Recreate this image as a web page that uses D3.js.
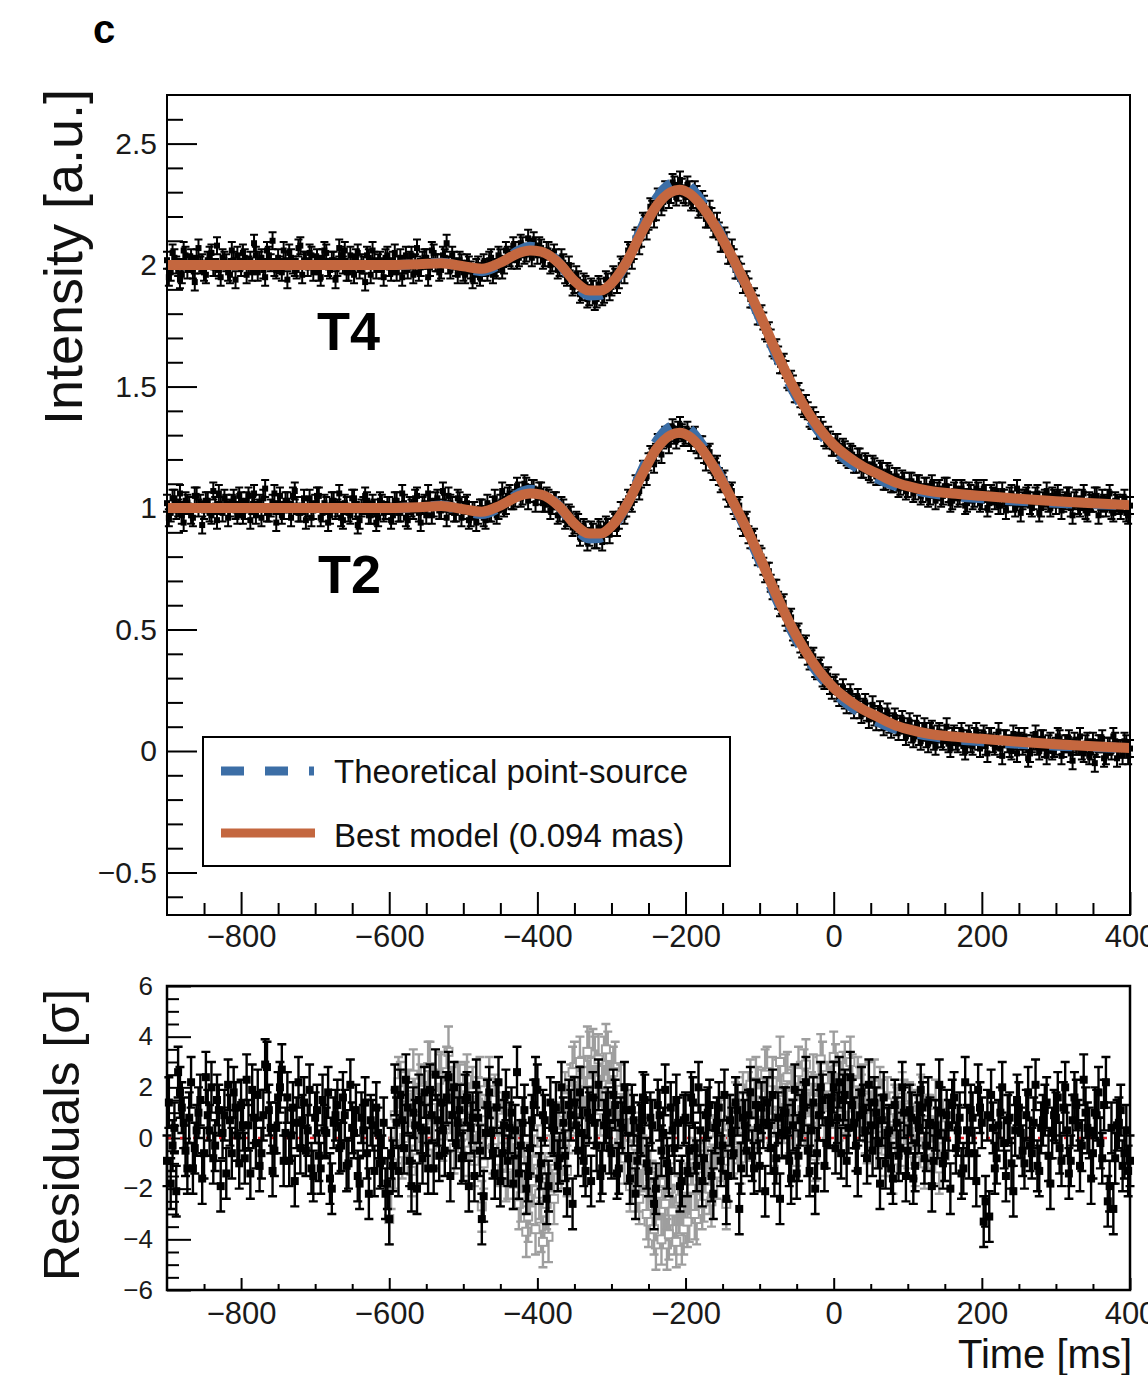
<!DOCTYPE html>
<html>
<head>
<meta charset="utf-8">
<script src="https://cdn.jsdelivr.net/npm/d3@7"></script>
<style>
  html, body { margin: 0; padding: 0; background: #fff; }
  svg { display: block; font-family: "Liberation Sans", Arial, sans-serif; }
</style>
</head>
<body>
<svg id="chart" width="1148" height="1375"></svg>
<script>
// ---- data ----
// light curves are sampled every 2.5 ms; stored as two interleaved 5 ms grids
const gridA = { start: -900, end: 400, step: 5 };
const gridB = { start: -897.5, end: 397.5, step: 5 };

// model curve knots (ms)
const modelTime = [-900,-600,-560,-530,-500,-475,-450,-425,-410,-395,-370,-350,-330,-315,-300,-280,-260,-240,-220,-208,-195,-180,-160,-140,-120,-100,-80,-60,-40,-20,0,20,40,60,80,100,130,160,200,250,300,350,400];
const bestT4 = [2.000,2.000,2.003,2.008,1.995,1.985,2.010,2.050,2.060,2.055,2.005,1.935,1.895,1.895,1.925,2.010,2.130,2.240,2.300,2.310,2.295,2.250,2.160,2.050,1.930,1.800,1.660,1.530,1.420,1.330,1.260,1.210,1.170,1.140,1.110,1.090,1.070,1.060,1.050,1.038,1.028,1.020,1.012];
const bestT2 = [1.000,1.000,1.003,1.008,0.995,0.985,1.010,1.050,1.060,1.055,1.005,0.935,0.895,0.895,0.925,1.010,1.130,1.240,1.300,1.310,1.295,1.250,1.160,1.050,0.930,0.800,0.660,0.530,0.420,0.330,0.260,0.210,0.170,0.140,0.110,0.090,0.070,0.060,0.050,0.038,0.028,0.020,0.012];
const theoT4 = [2.000,2.000,2.004,2.010,1.990,1.975,2.005,2.060,2.075,2.068,2.005,1.925,1.875,1.878,1.915,2.010,2.145,2.270,2.335,2.345,2.325,2.270,2.170,2.050,1.920,1.785,1.645,1.515,1.405,1.315,1.245,1.190,1.150,1.120,1.095,1.080,1.062,1.050,1.040,1.030,1.022,1.016,1.012];
const theoT2 = [1.000,1.000,1.004,1.010,0.990,0.975,1.005,1.060,1.075,1.068,1.005,0.925,0.875,0.878,0.915,1.010,1.145,1.270,1.335,1.345,1.325,1.270,1.170,1.050,0.920,0.785,0.645,0.515,0.405,0.315,0.245,0.190,0.150,0.120,0.095,0.080,0.062,0.050,0.040,0.030,0.022,0.016,0.012];

// measured intensities on grid A (-900 .. 400)
const dataT4a = [
  2.02,1.97,2.03,1.99,1.96,2.04,2.01,1.98,2.03,2.00,1.97,2.02,2.05,1.99,1.98,2.03,2.01,1.96,2.02,2.04,
  1.99,2.03,2.00,1.97,2.04,2.02,1.98,2.06,2.01,1.99,2.03,1.97,2.02,2.05,2.00,1.98,2.08,2.02,1.99,2.04,
  2.01,1.97,2.03,2.05,1.98,2.02,1.99,2.04,2.06,1.97,2.01,2.03,1.98,2.00,2.04,1.96,2.02,2.01,1.98,2.03,
  1.99,2.02,1.97,2.03,2.00,1.98,2.04,2.01,1.97,2.02,2.03,1.99,2.05,2.01,1.98,2.03,2.00,2.04,1.99,2.02,
  1.97,2.01,1.98,1.96,2.00,1.97,1.99,2.02,1.96,1.98,2.03,2.00,2.04,2.02,2.06,2.03,2.08,2.05,2.07,2.10,
  2.04,2.07,2.03,2.06,2.01,2.03,1.99,2.01,1.95,1.97,1.92,1.94,1.89,1.92,1.87,1.90,1.86,1.91,1.88,1.93,
  1.91,1.95,1.94,1.99,2.00,2.05,2.06,2.12,2.11,2.17,2.18,2.23,2.22,2.27,2.26,2.30,2.29,2.33,2.30,2.32,
  2.28,2.31,2.27,2.29,2.24,2.25,2.19,2.20,2.15,2.14,2.09,2.10,2.04,2.03,1.98,1.97,1.92,1.91,1.86,1.84,
  1.79,1.77,1.72,1.70,1.65,1.63,1.59,1.57,1.52,1.51,1.47,1.45,1.41,1.40,1.36,1.36,1.32,1.32,1.28,1.28,
  1.25,1.27,1.22,1.24,1.20,1.22,1.18,1.21,1.16,1.18,1.14,1.17,1.13,1.15,1.11,1.14,1.10,1.13,1.09,1.11,
  1.08,1.11,1.07,1.10,1.06,1.09,1.05,1.08,1.07,1.04,1.09,1.06,1.03,1.08,1.05,1.07,1.02,1.06,1.04,1.07,
  1.03,1.06,1.02,1.05,1.07,1.01,1.04,1.02,1.06,1.00,1.04,1.03,1.05,1.01,1.03,1.06,1.00,1.04,1.02,1.05,
  1.01,1.04,1.02,1.05,1.00,1.03,1.01,1.04,0.99,1.03,1.02,1.05,1.00,1.02,1.04,0.99,1.03,1.01,1.02,0.98,1.01
];
// measured intensities on grid B (-897.5 .. 397.5)
const dataT4b = [
  1.95,2.05,2.00,1.94,2.06,1.98,2.03,1.93,2.07,2.01,1.96,2.04,1.99,2.08,1.95,2.02,1.97,2.06,1.94,2.01,
  2.05,1.96,2.02,2.09,1.97,2.03,1.95,2.04,2.10,1.98,2.00,2.06,1.94,2.03,1.99,2.07,1.96,2.02,2.05,1.97,
  2.03,1.95,2.06,1.99,2.02,1.94,2.07,2.00,1.97,2.04,1.96,2.05,2.01,1.93,2.03,2.06,1.98,2.02,1.95,2.04,
  1.97,2.05,2.00,1.95,2.04,2.02,1.96,2.07,1.99,2.03,1.95,2.06,2.01,1.97,2.04,2.09,1.98,2.02,1.96,2.01,
  1.96,2.00,1.94,1.99,1.95,2.01,1.97,2.03,1.99,2.04,1.98,2.06,2.03,2.08,2.02,2.09,2.04,2.11,2.03,2.08,
  2.08,2.02,2.06,2.00,2.05,1.98,2.03,1.96,2.00,1.91,1.96,1.88,1.93,1.86,1.91,1.85,1.92,1.87,1.94,1.89,
  1.96,1.92,2.00,1.96,2.06,2.02,2.11,2.08,2.18,2.14,2.24,2.19,2.28,2.24,2.31,2.27,2.34,2.28,2.35,2.29,
  2.33,2.26,2.31,2.23,2.27,2.19,2.23,2.15,2.18,2.09,2.12,2.04,2.07,1.98,2.00,1.92,1.94,1.86,1.87,1.79,
  1.80,1.73,1.73,1.66,1.66,1.59,1.60,1.53,1.53,1.47,1.48,1.42,1.43,1.37,1.38,1.32,1.34,1.29,1.30,1.25,
  1.27,1.23,1.25,1.21,1.23,1.18,1.21,1.16,1.19,1.15,1.18,1.13,1.16,1.11,1.15,1.10,1.13,1.08,1.12,1.07,
  1.11,1.06,1.10,1.05,1.09,1.04,1.10,1.03,1.08,1.05,1.09,1.02,1.07,1.04,1.08,1.01,1.07,1.03,1.08,1.02,
  1.08,1.00,1.06,1.03,1.01,1.07,0.99,1.05,1.02,1.08,0.98,1.04,1.06,1.00,1.05,0.98,1.03,1.07,1.00,1.04,
  1.06,0.99,1.03,1.05,0.97,1.04,1.00,1.06,0.98,1.02,1.05,0.97,1.04,1.00,1.06,0.98,1.02,0.99,1.04,0.97
];
const dataT2a = [
  1.02,0.98,1.04,1.00,0.97,1.03,1.01,0.96,1.05,1.02,0.99,1.03,0.97,1.01,1.06,0.98,1.02,1.00,1.04,0.97,
  1.03,0.99,1.05,1.01,0.97,1.02,1.04,0.98,1.00,1.06,1.02,0.97,1.03,0.99,1.05,1.01,0.98,1.04,1.00,0.96,
  1.02,1.05,0.98,1.01,0.97,1.03,1.00,0.96,1.02,0.98,1.04,0.99,0.95,1.01,1.03,0.97,1.00,0.96,1.02,0.99,
  1.01,0.97,1.03,0.98,1.02,0.95,1.00,1.04,0.98,1.01,0.97,1.03,1.00,1.04,0.99,1.02,1.05,1.01,0.98,1.03,
  0.99,1.02,0.96,0.99,0.97,1.00,0.95,0.98,1.01,0.97,1.02,1.00,1.05,1.03,1.04,1.07,1.05,1.09,1.06,1.08,
  1.05,1.07,1.02,1.04,1.01,1.03,0.98,1.00,0.96,0.97,0.93,0.94,0.90,0.91,0.88,0.90,0.87,0.91,0.89,0.92,
  0.92,0.94,0.95,0.99,1.00,1.03,1.06,1.09,1.12,1.15,1.19,1.21,1.23,1.26,1.28,1.29,1.31,1.30,1.32,1.31,
  1.30,1.29,1.29,1.26,1.26,1.22,1.22,1.18,1.17,1.13,1.11,1.07,1.06,1.01,1.00,0.95,0.94,0.89,0.87,0.83,
  0.81,0.76,0.74,0.69,0.67,0.62,0.60,0.55,0.54,0.49,0.48,0.44,0.43,0.39,0.38,0.34,0.34,0.30,0.30,0.27,
  0.27,0.24,0.24,0.21,0.22,0.19,0.20,0.17,0.18,0.16,0.16,0.14,0.15,0.12,0.14,0.11,0.12,0.10,0.11,0.08,
  0.10,0.07,0.09,0.06,0.08,0.05,0.08,0.04,0.07,0.05,0.07,0.03,0.06,0.04,0.06,0.02,0.05,0.03,0.06,0.04,
  0.05,0.02,0.06,0.03,0.04,0.01,0.05,0.03,0.00,0.04,0.06,0.02,0.03,-0.01,0.04,0.02,0.05,0.01,0.03,0.00,
  0.02,0.05,0.01,0.03,-0.01,0.04,0.02,0.00,0.03,-0.02,0.04,0.01,0.03,-0.03,0.02,0.00,0.04,0.01,-0.02,0.03,0.01
];
const dataT2b = [
  0.96,1.04,0.99,1.06,0.94,1.02,0.97,1.05,1.00,0.93,1.03,0.98,1.07,0.95,1.01,1.04,0.96,1.02,0.99,1.05,
  0.97,1.03,0.95,1.06,1.00,0.96,1.08,0.98,1.02,0.94,1.05,0.99,1.03,0.96,1.07,0.98,1.01,0.95,1.04,0.99,
  1.05,0.96,1.02,0.94,1.03,0.99,1.06,0.95,1.01,0.97,1.04,0.93,1.00,1.05,0.97,1.02,0.94,1.03,0.98,1.01,
  0.95,1.03,0.98,1.06,0.96,1.01,0.99,1.05,0.94,1.02,1.06,0.97,1.03,0.99,1.07,0.96,1.02,0.98,1.04,0.96,
  1.01,0.95,0.99,0.94,1.00,0.96,1.02,0.98,1.04,0.99,1.07,1.01,1.06,1.03,1.09,1.04,1.10,1.03,1.08,1.02,
  1.07,1.02,1.05,0.99,1.03,0.97,1.01,0.95,0.98,0.92,0.95,0.88,0.92,0.86,0.91,0.87,0.92,0.86,0.93,0.89,
  0.95,0.92,0.99,0.97,1.04,1.02,1.10,1.07,1.16,1.13,1.22,1.18,1.27,1.22,1.30,1.26,1.33,1.28,1.34,1.29,
  1.32,1.27,1.30,1.24,1.26,1.19,1.23,1.15,1.18,1.10,1.12,1.04,1.07,0.99,1.01,0.92,0.95,0.87,0.88,0.80,
  0.80,0.73,0.74,0.66,0.67,0.59,0.61,0.53,0.55,0.47,0.49,0.42,0.44,0.37,0.39,0.33,0.35,0.29,0.31,0.25,
  0.28,0.22,0.26,0.19,0.24,0.17,0.22,0.15,0.20,0.13,0.19,0.12,0.17,0.10,0.16,0.09,0.14,0.08,0.13,0.06,
  0.12,0.05,0.11,0.04,0.10,0.03,0.09,0.02,0.08,0.04,0.10,0.01,0.07,0.03,0.08,0.00,0.07,0.02,0.08,0.01,
  0.07,-0.01,0.06,0.02,0.08,-0.02,0.05,0.01,0.07,-0.01,0.04,0.06,-0.03,0.03,0.07,0.00,0.05,-0.02,0.04,0.01,
  0.06,-0.02,0.03,0.05,-0.04,0.02,0.06,-0.01,0.04,0.00,-0.05,0.03,0.05,-0.02,0.02,0.06,-0.03,0.01,0.04,-0.02
];
const intensityErr = 0.035;

// residuals to the best model (sigma)
const resBestA = [
  -0.9,-1.8,0.4,2.6,1.2,-0.5,0.8,-1.2,0.3,1.5,-0.6,0.9,2.0,-0.3,1.1,0.2,-1.4,0.7,1.8,0.1,
  1.3,-0.8,0.5,1.9,-0.2,-1.1,0.9,2.8,0.4,-0.5,1.6,2.7,0.2,-0.9,1.2,0.6,-0.4,1.4,0.3,-1.2,
  0.8,-0.7,1.5,0.2,-1.6,0.6,1.3,-0.3,0.9,-1.0,0.4,1.1,-1.8,0.3,-0.6,0.7,-1.3,0.2,-0.9,-2.2,
  -3.2,-1.1,0.6,1.7,-0.4,1.2,-1.9,0.5,1.5,-0.8,0.3,1.9,-1.2,0.7,1.4,-0.5,2.4,0.9,-0.2,1.1,
  -0.7,1.6,0.4,-1.5,0.8,-3.2,0.2,1.8,-0.6,1.2,-1.7,0.5,-0.9,1.0,0.3,-1.4,0.6,-2.0,-0.4,1.3,
  1.9,-1.0,0.7,-1.9,0.4,1.2,-0.8,0.6,-2.1,0.9,1.4,-0.5,0.2,-1.3,0.8,1.6,-0.3,-1.5,0.5,1.0,
  -0.6,1.3,-1.2,0.4,1.1,-1.6,0.7,-0.9,0.3,1.5,-1.3,0.5,-2.0,0.9,0.2,-1.0,1.2,-0.4,0.6,-1.7,
  0.8,-0.5,1.4,-1.1,0.3,-0.8,1.0,-1.5,0.4,1.2,-0.3,-2.4,0.7,-0.6,1.1,-1.2,0.5,0.9,-0.7,1.3,
  -1.1,0.6,1.4,-0.4,-1.3,0.8,0.2,1.0,-0.9,0.5,-1.4,0.7,1.2,-0.5,0.3,-2.0,0.9,1.5,-0.2,0.6,
  2.0,0.8,-0.6,1.7,0.4,1.3,-0.3,0.9,1.1,-0.8,0.5,1.4,-0.2,0.7,-1.0,0.3,-1.6,0.6,-0.4,1.0,
  -0.5,0.8,-1.1,0.4,1.2,-0.3,0.6,-0.9,0.2,1.0,-0.7,0.5,1.3,-0.4,0.8,-1.2,0.3,1.1,-0.6,1.9,
  0.6,-2.5,-3.1,0.4,-0.8,1.0,-0.2,0.7,-1.0,0.3,1.2,-0.5,0.9,-0.3,0.6,-1.1,0.4,1.1,-0.7,0.2,
  0.8,-0.4,1.2,0.3,-0.9,1.6,0.5,-0.3,1.0,0.2,-0.6,0.9,-0.2,1.3,-2.5,0.4,-0.8,0.6,-1.1,0.3,-0.9
];
const resBestB = [
  1.4,-0.3,-2.1,1.8,0.6,-1.2,2.2,-0.4,1.0,-1.6,2.4,0.3,-0.8,1.5,-1.9,0.9,2.1,-0.6,1.2,-1.0,
  0.5,2.3,-1.4,0.8,1.7,-0.6,2.9,1.1,-1.3,0.4,2.0,-0.9,1.6,0.1,-1.7,2.2,0.7,-0.5,1.9,-1.5,
  1.1,-1.2,0.3,1.8,-2.0,0.9,-0.4,1.6,-1.1,2.1,0.2,-1.5,0.8,1.4,-2.2,0.5,1.2,-1.0,0.6,-1.8,
  -0.6,1.9,-1.3,0.7,2.3,-0.9,1.0,-2.0,0.4,1.8,-1.2,0.9,2.5,-0.7,0.3,1.6,-1.5,2.0,0.6,-0.8,
  1.5,-1.9,0.8,2.1,-0.5,-2.3,1.3,0.2,-1.4,2.2,-0.6,1.7,0.4,-1.8,2.6,-0.3,1.1,-1.5,0.7,2.2,
  -1.6,0.9,-2.4,1.4,0.3,-1.1,2.0,-0.7,1.3,-2.6,0.5,1.8,-0.9,1.0,-1.7,0.6,2.1,-1.2,0.8,-0.4,
  1.7,-1.4,0.6,2.0,-0.8,1.1,-2.2,0.4,1.6,-1.0,0.8,-2.6,1.3,-0.5,1.9,-1.3,0.3,1.5,-1.9,0.7,
  -1.3,1.6,-0.4,2.0,-1.7,0.9,1.3,-2.2,0.6,-0.9,1.7,-1.5,0.2,1.4,-2.8,0.8,-0.5,1.8,-1.2,0.4,
  1.2,-2.1,0.5,1.7,-0.8,-2.4,1.0,0.3,-1.6,1.9,-0.7,0.9,2.2,-1.3,1.4,-0.6,2.0,-1.1,0.7,1.6,
  -0.4,2.2,1.5,-0.9,2.4,0.6,-1.3,1.8,0.3,2.1,-0.5,1.0,-1.8,1.6,0.2,-1.2,1.3,-0.7,2.0,-1.5,
  1.1,-1.6,0.7,1.9,-0.8,1.4,-1.9,0.5,2.1,-1.0,0.9,-2.0,1.6,0.3,-1.4,2.2,-0.6,0.8,-1.7,1.2,
  -3.3,0.9,1.7,-1.2,0.5,2.0,-1.5,0.8,-2.1,1.5,0.2,-1.0,1.8,-0.6,2.1,-1.3,0.7,1.4,-1.8,0.9,
  1.6,-0.9,2.0,-1.4,0.7,1.3,-1.1,2.3,0.4,-1.6,1.0,1.8,-0.8,2.2,-1.9,-2.8,0.5,1.1,-0.6,-1.3
];

// residuals to the theoretical point source (sigma), where it differs from the best model
const theoGridA = { start: -600, end: 150, step: 5 };
const theoGridB = { start: -597.5, end: 147.5, step: 5 };
const resTheoA = [
  -3.2,-1.0,0.8,2.0,0.0,1.7,-1.3,1.2,2.3,0.0,1.2,2.8,-0.2,1.7,2.4,0.5,3.4,1.8,0.7,1.9,
  0.1,2.3,1.1,-0.9,1.4,-2.7,0.7,2.2,-0.4,1.3,-1.7,0.3,-1.4,0.3,-0.7,-2.6,-0.9,-3.7,-2.4,-0.9,
  -0.5,-3.5,-1.6,-3.9,-1.1,0.4,-0.8,1.0,-1.3,1.9,2.8,1.2,2.2,0.9,3.2,3.3,2.3,1.1,3.0,3.2,
  1.4,2.8,-0.2,0.9,1.1,-1.9,0.0,-1.9,-1.1,-0.2,-3.3,-1.9,-4.2,-2.1,-2.9,-4.2,-2.0,-3.6,-2.5,-4.0,
  -2.0,-3.1,-1.0,-3.2,-1.5,-2.3,-0.2,-2.5,-0.4,0.6,-0.7,-2.6,0.7,-0.4,1.4,-0.8,1.1,1.6,0.1,2.2,
  0.0,1.7,2.6,0.8,-0.1,2.1,1.5,2.3,0.4,1.8,-0.1,2.0,2.5,0.8,1.6,-0.7,2.2,2.8,1.0,1.8,
  3.2,2.0,0.5,2.8,1.4,2.3,0.6,1.8,1.9,0.0,1.2,2.1,0.4,1.3,-0.5,0.8,-1.2,1.0,-0.1,1.3,
  -0.2,1.1,-0.9,0.6,1.4,-0.2,0.7,-0.8,0.2,1.0,-0.7
];
const resTheoB = [
  -1.8,0.9,2.2,-0.6,1.6,0.3,2.5,-0.8,1.9,0.7,2.8,-0.3,1.5,2.3,0.1,2.6,1.2,-0.4,2.0,0.9,
  2.0,-0.5,1.8,0.4,2.2,-1.0,1.3,0.6,1.5,-0.9,0.8,-1.5,0.2,-1.8,-0.4,-2.3,-1.2,-3.1,-1.7,-3.6,
  -2.2,-4.1,-2.6,-0.9,-2.4,0.2,-1.0,1.6,0.4,2.6,1.1,3.0,1.8,3.4,2.2,3.0,3.1,2.1,3.5,2.0,
  2.6,0.6,1.9,-0.8,0.9,-1.6,-0.3,-2.4,-0.9,-3.0,-1.5,-3.6,-2.2,-4.0,-2.6,-3.8,-2.9,-4.1,-2.4,-3.6,
  -3.3,-2.0,-3.0,-1.2,-2.6,-0.8,-2.0,-0.1,-1.4,0.5,-0.9,0.7,-0.5,1.2,0.0,1.6,0.4,2.1,0.6,1.8,
  1.0,2.5,0.6,2.2,1.4,3.0,0.8,2.4,1.7,0.5,2.6,1.1,2.9,0.7,2.3,1.5,3.1,0.9,2.0,1.4,
  2.7,0.9,2.4,1.2,3.0,0.6,2.2,1.5,0.4,2.0,1.3,-0.2,1.8,0.6,1.4,-0.5,1.1,0.3,1.6,-0.4,
  1.2,-0.6,0.9,1.5,-1.0,0.7,-0.3,1.3,-1.2,0.5
];
const residualErr = 1;

const xMajor = [-800, -600, -400, -200, 0, 200, 400];
const topYMajor = [-0.5, 0, 0.5, 1, 1.5, 2, 2.5];
const resYMajor = [-6, -4, -2, 0, 2, 4, 6];
const legendLabels = ['Theoretical point-source', 'Best model (0.094 mas)'];

// ---- layout ----
const orange = '#c4673f';
const blue = '#3c6ea6';
const svg = d3.select('#chart');

const x = d3.scaleLinear().domain([-900, 400]).range([167, 1130]);
const yTop = d3.scaleLinear().domain([-0.675, 2.7]).range([915, 95]);
const yRes = d3.scaleLinear().domain([-6, 6]).range([1290, 986]);

const gridTimes = g => d3.range(g.start, g.end + g.step / 2, g.step);

function styleAxis(g, size) {
  g.select('.domain').remove();
  g.selectAll('line').attr('stroke', '#000').attr('stroke-width', 2);
  g.selectAll('text')
    .attr('font-size', size)
    .attr('font-family', '"Liberation Sans", Arial, sans-serif')
    .attr('fill', '#1a1a1a');
}

function minorTicks(lo, hi, step, majors) {
  return d3.range(lo, hi + step / 2, step)
    .map(v => +v.toFixed(4))
    .filter(v => !majors.some(m => Math.abs(m - v) < 1e-6));
}

// ---- top panel ----
const panelTop = svg.append('g');

panelTop.append('g')
  .attr('transform', 'translate(0,915)')
  .call(d3.axisBottom(x).tickValues(minorTicks(-850, 400, 50, xMajor)).tickSize(-12).tickFormat(''))
  .call(g => styleAxis(g, 30));
panelTop.append('g')
  .attr('transform', 'translate(0,915)')
  .call(d3.axisBottom(x).tickValues(xMajor).tickSize(-23).tickPadding(10).tickFormat(d3.format('~g')))
  .call(g => styleAxis(g, 31));

panelTop.append('g')
  .attr('transform', 'translate(167,0)')
  .call(d3.axisLeft(yTop).tickValues(minorTicks(-0.6, 2.6, 0.1, topYMajor)).tickSize(-16).tickFormat(''))
  .call(g => styleAxis(g, 30));
panelTop.append('g')
  .attr('transform', 'translate(167,0)')
  .call(d3.axisLeft(yTop).tickValues(topYMajor).tickSize(-30).tickPadding(10).tickFormat(d3.format('~g')))
  .call(g => styleAxis(g, 30));

function errorPath(t, v, err, ys, cap) {
  const px = x(t), y0 = ys(v - err), y1 = ys(v + err);
  return `M${px},${y0}V${y1}M${px - cap},${y0}H${px + cap}M${px - cap},${y1}H${px + cap}`;
}

function drawIntensity(grid, values) {
  const times = gridTimes(grid);
  const g = panelTop.append('g');
  const pts = values.map((v, i) => ({ t: times[i], v }));
  g.append('path')
    .attr('d', pts.map(p => errorPath(p.t, p.v, intensityErr, yTop, 4)).join(''))
    .attr('stroke', '#000').attr('stroke-width', 2).attr('fill', 'none');
  g.selectAll('rect').data(pts).join('rect')
    .attr('x', d => x(d.t) - 3).attr('y', d => yTop(d.v) - 3)
    .attr('width', 6).attr('height', 6).attr('fill', '#000');
}
drawIntensity(gridA, dataT4a);
drawIntensity(gridB, dataT4b);
drawIntensity(gridA, dataT2a);
drawIntensity(gridB, dataT2b);

const curve = d3.line()
  .x(d => x(d[0]))
  .y(d => yTop(d[1]))
  .curve(d3.curveMonotoneX);

[theoT4, theoT2].forEach(vals => {
  panelTop.append('path')
    .attr('d', curve(modelTime.map((t, i) => [t, vals[i]])))
    .attr('fill', 'none').attr('stroke', blue).attr('stroke-width', 10)
    .attr('stroke-dasharray', '23,21');
});
[bestT4, bestT2].forEach(vals => {
  panelTop.append('path')
    .attr('d', curve(modelTime.map((t, i) => [t, vals[i]])))
    .attr('fill', 'none').attr('stroke', orange).attr('stroke-width', 10);
});

panelTop.append('rect')
  .attr('x', 167).attr('y', 95).attr('width', 963).attr('height', 820)
  .attr('fill', 'none').attr('stroke', '#000').attr('stroke-width', 2);

panelTop.append('text').attr('x', 317).attr('y', 350)
  .attr('font-size', 54).attr('font-weight', 'bold').text('T4');
panelTop.append('text').attr('x', 318).attr('y', 593)
  .attr('font-size', 54).attr('font-weight', 'bold').text('T2');

// legend
const legend = panelTop.append('g');
legend.append('rect')
  .attr('x', 203).attr('y', 737).attr('width', 527).attr('height', 129)
  .attr('fill', '#fff').attr('stroke', '#000').attr('stroke-width', 2);
legend.append('line')
  .attr('x1', 221).attr('x2', 314).attr('y1', 771).attr('y2', 771)
  .attr('stroke', blue).attr('stroke-width', 9).attr('stroke-dasharray', '23,21');
legend.append('line')
  .attr('x1', 221).attr('x2', 315).attr('y1', 833).attr('y2', 833)
  .attr('stroke', orange).attr('stroke-width', 9);
legend.selectAll('text.lab').data(legendLabels).join('text')
  .attr('class', 'lab')
  .attr('x', 334).attr('y', (d, i) => 783 + i * 64)
  .attr('font-size', 33).attr('fill', '#111')
  .text(d => d);

svg.append('text')
  .attr('transform', 'translate(82,257) rotate(-90)')
  .attr('text-anchor', 'middle').attr('font-size', 54).attr('fill', '#111')
  .text('Intensity [a.u.]');

svg.append('text').attr('x', 93).attr('y', 43)
  .attr('font-size', 40).attr('font-weight', 'bold').text('c');

// ---- residual panel ----
const panelRes = svg.append('g');

panelRes.append('g')
  .attr('transform', 'translate(0,1290)')
  .call(d3.axisBottom(x).tickValues(minorTicks(-850, 400, 50, xMajor)).tickSize(-6).tickFormat(''))
  .call(g => styleAxis(g, 30));
panelRes.append('g')
  .attr('transform', 'translate(0,1290)')
  .call(d3.axisBottom(x).tickValues(xMajor).tickSize(-12).tickPadding(12).tickFormat(d3.format('~g')))
  .call(g => styleAxis(g, 31));
panelRes.append('g')
  .attr('transform', 'translate(167,0)')
  .call(d3.axisLeft(yRes).tickValues(minorTicks(-5.5, 5.5, 0.5, resYMajor)).tickSize(-12).tickFormat(''))
  .call(g => styleAxis(g, 26));
panelRes.append('g')
  .attr('transform', 'translate(167,0)')
  .call(d3.axisLeft(yRes).tickValues(resYMajor).tickSize(-24).tickPadding(14).tickFormat(d3.format('~g')))
  .call(g => styleAxis(g, 26));

panelRes.append('line')
  .attr('x1', x(-900)).attr('x2', x(400)).attr('y1', yRes(0)).attr('y2', yRes(0))
  .attr('stroke', '#e8222a').attr('stroke-width', 2.5).attr('stroke-dasharray', '4,9');

function drawResiduals(grid, values, color, filled) {
  const times = gridTimes(grid);
  const g = panelRes.append('g');
  const pts = values.map((v, i) => ({ t: times[i], v }));
  g.append('path')
    .attr('d', pts.map(p => errorPath(p.t, p.v, residualErr, yRes, 4.5)).join(''))
    .attr('stroke', color).attr('stroke-width', 2.4).attr('fill', 'none');
  g.selectAll('rect').data(pts).join('rect')
    .attr('x', d => x(d.t) - 4).attr('y', d => yRes(d.v) - 4)
    .attr('width', 8).attr('height', 8)
    .attr('fill', filled ? color : '#fff')
    .attr('stroke', color).attr('stroke-width', filled ? 0 : 2);
}
drawResiduals(theoGridA, resTheoA, '#9e9e9e', false);
drawResiduals(theoGridB, resTheoB, '#9e9e9e', false);
drawResiduals(gridA, resBestA, '#000', true);
drawResiduals(gridB, resBestB, '#000', true);

panelRes.append('rect')
  .attr('x', 167).attr('y', 986).attr('width', 963).attr('height', 304)
  .attr('fill', 'none').attr('stroke', '#000').attr('stroke-width', 2.5);

svg.append('text')
  .attr('transform', 'translate(79,1135) rotate(-90)')
  .attr('text-anchor', 'middle').attr('font-size', 50).attr('fill', '#111')
  .text('Residuals [σ]');

svg.append('text')
  .attr('x', 1132).attr('y', 1368).attr('text-anchor', 'end')
  .attr('font-size', 40).attr('fill', '#111')
  .text('Time [ms]');
</script>
</body>
</html>
